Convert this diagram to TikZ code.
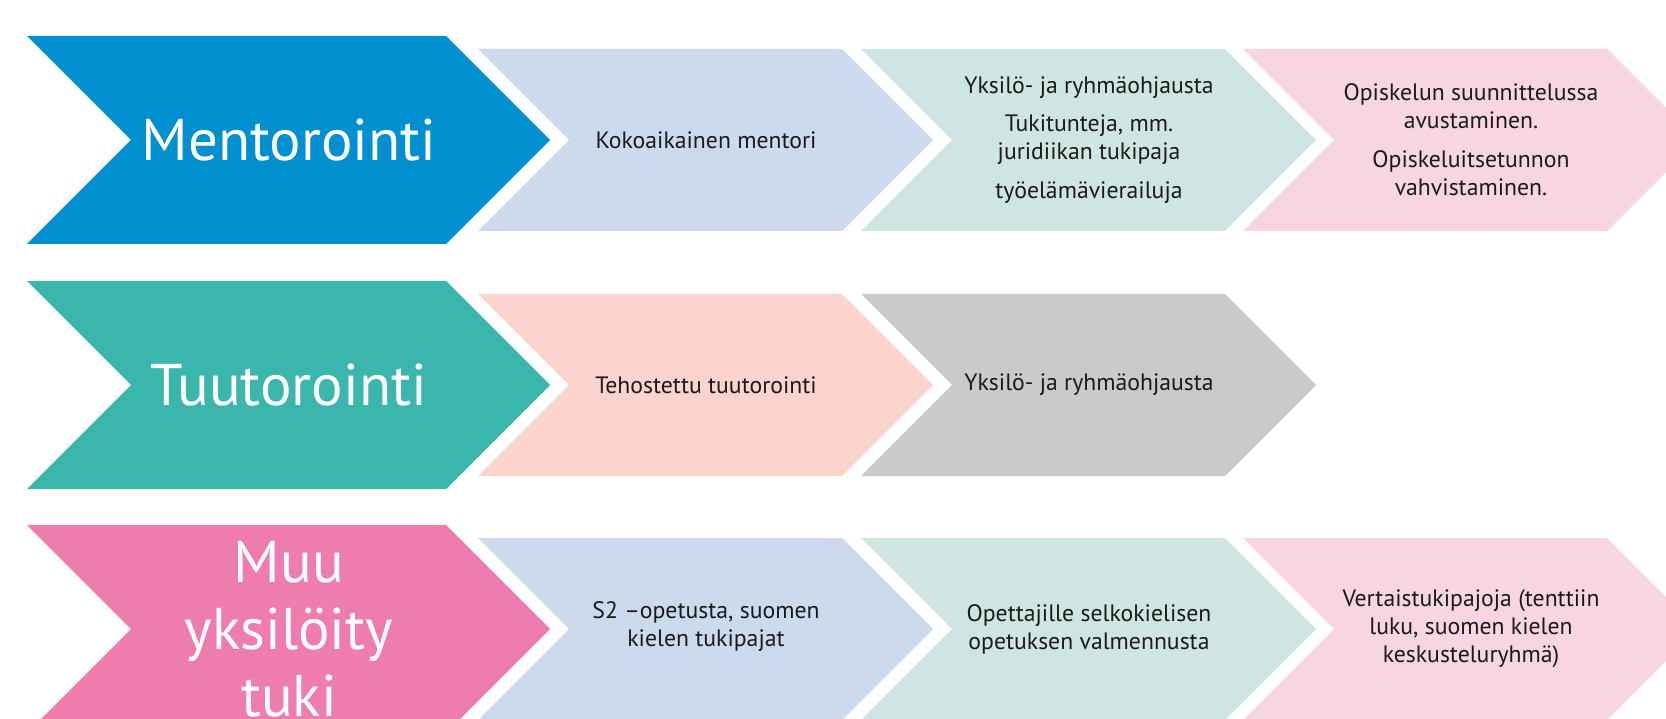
\documentclass[tikz,border=0pt]{standalone}
\usepackage{fontspec}
\setmainfont{PT Sans}
\definecolor{mentorblue}{HTML}{0090D0}
\definecolor{tutorteal}{HTML}{3AB6AD}
\definecolor{muupink}{HTML}{EE7CAE}
\definecolor{paleblue}{HTML}{CBDAEC}
\definecolor{paleteal}{HTML}{CFE5E1}
\definecolor{palepink}{HTML}{F7D5E1}
\definecolor{salmon}{HTML}{FDD3CE}
\definecolor{palegray}{HTML}{CACACA}
\definecolor{textdark}{HTML}{1A1A1A}
\tikzset{bigtext/.style={text=white,font=\fontsize{33.5}{38}\selectfont,align=center}}
\tikzset{smalltext/.style={text=textdark,font=\fontsize{13.5}{16}\selectfont,align=center}}
% colour, left x, centre y, half height, length
\newcommand{\chevron}[5]{%
  \fill[#1] (#2,#3-#4) -- (#2+#5-#4,#3-#4) -- (#2+#5,#3) -- (#2+#5-#4,#3+#4) -- (#2,#3+#4) -- (#2+#4,#3) -- cycle;}

\begin{document}
\begin{tikzpicture}[x=0.02cm,y=-0.02cm]
                \useasboundingbox (0,0) rectangle (1666,719);
                \clip (0,0) rectangle (1666,719);

                % Mentorointi
                \chevron{mentorblue}{27}{140}{104}{523}
                \chevron{paleblue}{478}{140}{91}{455}
                \chevron{paleteal}{861}{140}{91}{455}
                \chevron{palepink}{1243}{140}{91}{455}

                % Tuutorointi
                \chevron{tutorteal}{27}{385}{104}{523}
                \chevron{salmon}{478}{385}{91}{455}
                \chevron{palegray}{861}{385}{91}{455}

                % Muu tuki
                \chevron{muupink}{27}{629}{104}{523}
                \chevron{paleblue}{478}{629}{91}{455}
                \chevron{paleteal}{861}{629}{91}{455}
                \chevron{palepink}{1243}{629}{91}{455}

                % Labels
                \node[bigtext] (mentor) at (289,140) {Mentorointi};
                \node[smalltext] (kokoaik) at (706,140) {Kokoaikainen mentori};
                \node[smalltext] (ohjaus) at (1089,140) {Yksilö- ja ryhmäohjausta\\[6pt]Tukitunteja, mm.\\juridiikan tukipaja\\[6pt]työelämävierailuja};
                \node[smalltext] (suunn) at (1471,140) {Opiskelun suunnittelussa\\avustaminen.\\[6pt]Opiskeluitsetunnon\\vahvistaminen.};

                \node[bigtext] (tutor) at (289,385) {Tuutorointi};
                \node[smalltext] (tehost) at (706,385) {Tehostettu tuutorointi};
                \node[smalltext] (ryhma) at (1089,385) {Yksilö- ja ryhmäohjausta};

                \node[bigtext] (muu) at (289,629) {Muu\\yksilöity\\tuki};
                \node[smalltext] (suomi) at (706,627) {S2 –opetusta, suomen\\kielen tukipajat};
                \node[smalltext] (selko) at (1089,629) {Opettajille selkokielisen\\opetuksen valmennusta};
                \node[smalltext] (vertais) at (1471,629) {Vertaistukipajoja (tenttiin\\luku, suomen kielen\\keskusteluryhmä)};
\end{tikzpicture}
\end{document}
